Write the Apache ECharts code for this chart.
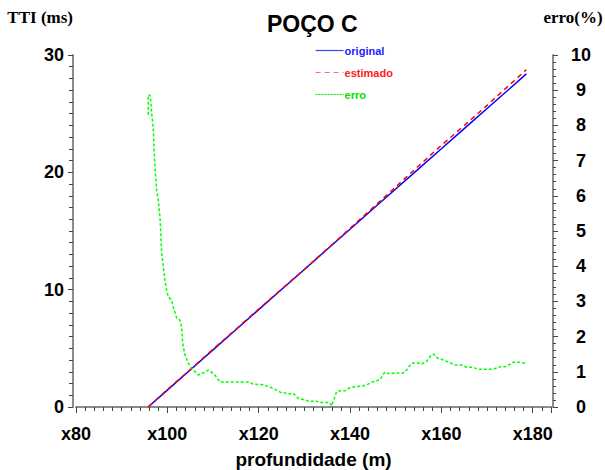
<!DOCTYPE html>
<html>
<head>
<meta charset="utf-8">
<script src="https://cdn.jsdelivr.net/npm/echarts@6/dist/echarts.min.js"></script>
<style>
  html, body { margin: 0; padding: 0; background: #ffffff; }
  #chart { width: 605px; height: 470px; }
</style>
</head>
<body>
<div id="chart"></div>
<script>
// Depth samples (m) for the TTI curves
const depth = [95.8, 100, 105, 110, 115, 120, 125, 130, 135, 140, 145, 150, 155, 160, 165, 170, 175, 178.6];
// TTI (ms): measured and estimated
const ttiOriginal = [0, 1.44, 3.15, 4.87, 6.58, 8.30, 10.01, 11.72, 13.44, 15.15, 16.87, 18.58, 20.29, 22.01, 23.72, 25.44, 27.15, 28.39];
const ttiEstimado = [0, 1.49, 3.19, 4.92, 6.63, 8.35, 10.05, 11.74, 13.46, 15.23, 16.99, 18.76, 20.54, 22.30, 23.99, 25.71, 27.48, 28.74];

// Relative error (%) along depth
const erroDepth = [95.82, 95.82, 96.19, 96.35, 96.56, 96.91, 97.07, 97.29, 97.66, 98.01, 98.38, 98.53, 98.75, 99.47, 99.85,
  100.20, 100.94, 101.29, 102.03, 102.76, 103.13, 103.35, 103.85, 104.57, 105.32, 106.76, 107.86, 108.95, 109.69, 110.42,
  111.51, 112.98, 115.16, 117.70, 118.80, 120.98, 122.45, 123.92, 125.01, 125.36, 126.45, 127.55, 128.64, 130.11, 131.20,
  132.30, 133.39, 134.86, 135.58, 135.95, 136.30, 137.05, 137.77, 138.86, 139.96, 141.42, 142.87, 143.96, 145.05, 146.52,
  147.61, 148.71, 149.80, 151.62, 152.36, 153.46, 154.55, 155.65, 156.74, 157.83, 158.34, 159.28, 160.37, 161.84, 162.93,
  164.40, 165.49, 166.59, 168.40, 170.59, 171.31, 172.78, 173.87, 174.97, 175.69, 177.15, 178.62];
const erroPct = [8.30, 8.86, 8.86, 8.72, 8.35, 7.95, 7.39, 6.82, 6.16, 5.88, 5.40, 5.03, 4.38, 3.61, 3.32,
  3.13, 3.04, 2.84, 2.53, 2.47, 2.27, 1.82, 1.48, 1.25, 1.11, 0.91, 0.97, 1.05, 0.99, 0.91,
  0.71, 0.71, 0.71, 0.71, 0.65, 0.63, 0.57, 0.48, 0.40, 0.41, 0.37, 0.39, 0.25, 0.20, 0.15,
  0.18, 0.13, 0.13, 0.12, 0.03, 0.15, 0.43, 0.46, 0.46, 0.55, 0.58, 0.60, 0.65, 0.72, 0.77,
  0.99, 0.94, 0.97, 0.96, 1.05, 1.24, 1.26, 1.22, 1.29, 1.48, 1.50, 1.38, 1.34, 1.26, 1.19,
  1.19, 1.13, 1.13, 1.07, 1.07, 1.07, 1.14, 1.14, 1.21, 1.27, 1.27, 1.24];

// Labelled depth ticks
const depthTicks = [80, 100, 120, 140, 160, 180];

const pair = (xs, ys) => xs.map((x, i) => [x, ys[i]]);

const blue = '#0000ff';
const red = '#ff0000';
const green = '#00ff00';
const axisGray = '#8c8c8c';
const tickDark = '#444444';
const sansBold = { fontFamily: 'Arial, "Liberation Sans", sans-serif', fontWeight: 'bold', color: '#000' };
const labelFont = Object.assign({ fontSize: 18 }, sansBold);
const serifName = { fontFamily: '"Liberation Serif", "Times New Roman", serif', fontWeight: 'bold', fontSize: 17, color: '#000' };

const chart = echarts.init(document.getElementById('chart'), null, { renderer: 'svg' });

chart.setOption({
  animation: false,
  backgroundColor: '#ffffff',
  title: {
    text: 'POÇO C',
    left: 262,
    top: 7,
    textStyle: Object.assign({ fontSize: 23 }, sansBold)
  },
  legend: {
    orient: 'vertical',
    left: 310,
    top: 40,
    itemWidth: 28,
    itemHeight: 11,
    itemGap: 11,
    selectedMode: false,
    itemStyle: { opacity: 0 },
    textStyle: Object.assign({ fontSize: 11, padding: [0, 0, 8, -4] }, sansBold),
    data: [
      { name: 'original', textStyle: { color: '#2222ff' }, lineStyle: { color: '#4040ff', width: 1.2, type: 'solid' } },
      { name: 'estimado', textStyle: { color: '#ff1a1a' }, lineStyle: { color: '#ff7070', width: 1.2, type: [5, 4] } },
      { name: 'erro', textStyle: { color: '#00e000' }, lineStyle: { color: '#00ee00', width: 1.2, type: [2, 1] } }
    ]
  },
  grid: { left: 76, right: 54, top: 55, bottom: 63, outerBoundsMode: 'none', containLabel: false },
  xAxis: {
    type: 'value',
    min: 80,
    max: 184,
    interval: 20,
    offset: 5,
    name: 'profundidade (m)',
    nameLocation: 'middle',
    nameGap: 38,
    nameTextStyle: Object.assign({ fontSize: 19 }, sansBold),
    splitLine: { show: false },
    axisLine: { show: true, lineStyle: { color: axisGray, width: 2 } },
    axisTick: { show: true, length: 6, lineStyle: { color: tickDark, width: 1 } },
    minorTick: { show: true, splitNumber: 10, length: 4, lineStyle: { color: tickDark, width: 1 } },
    axisLabel: Object.assign({
      margin: 13,
      showMaxLabel: false,
      formatter: v => depthTicks.includes(v) ? 'x' + v : ''
    }, labelFont)
  },
  yAxis: [
    {
      type: 'value',
      position: 'left',
      min: 0,
      max: 30,
      interval: 10,
      offset: 3,
      name: 'TTI (ms)',
      nameLocation: 'end',
      nameGap: 29,
      nameTextStyle: Object.assign({ align: 'right' }, serifName),
      splitLine: { show: false },
      axisLine: { show: true, lineStyle: { color: axisGray, width: 2 } },
      axisTick: { show: true, length: 5, lineStyle: { color: tickDark, width: 1 } },
      minorTick: { show: true, splitNumber: 10, length: 4, lineStyle: { color: tickDark, width: 1 } },
      axisLabel: Object.assign({ margin: 9 }, labelFont)
    },
    {
      type: 'value',
      position: 'right',
      min: 0,
      max: 10,
      interval: 1,
      offset: 2,
      name: 'erro(%)',
      nameLocation: 'end',
      nameGap: 29,
      nameTextStyle: Object.assign({ align: 'center', padding: [0, 0, 0, 40] }, serifName),
      splitLine: { show: false },
      axisLine: { show: true, lineStyle: { color: axisGray, width: 2 } },
      axisTick: { show: true, length: 5, lineStyle: { color: tickDark, width: 1 } },
      minorTick: { show: true, splitNumber: 5, length: 3, lineStyle: { color: tickDark, width: 1 } },
      axisLabel: Object.assign({ margin: 28, align: 'center' }, labelFont)
    }
  ],
  series: [
    {
      name: 'original',
      type: 'line',
      yAxisIndex: 0,
      data: pair(depth, ttiOriginal),
      symbol: 'none',
      color: blue,
      lineStyle: { color: blue, width: 1.5, type: 'solid' },
      z: 2
    },
    {
      name: 'estimado',
      type: 'line',
      yAxisIndex: 0,
      data: pair(depth, ttiEstimado),
      symbol: 'none',
      color: red,
      lineStyle: { color: red, width: 1.5, type: [5, 4] },
      z: 3
    },
    {
      name: 'erro',
      type: 'line',
      yAxisIndex: 1,
      data: pair(erroDepth, erroPct),
      symbol: 'none',
      color: green,
      lineStyle: { color: green, width: 1.5, type: [3, 2] },
      z: 4
    }
  ]
});
</script>
</body>
</html>
